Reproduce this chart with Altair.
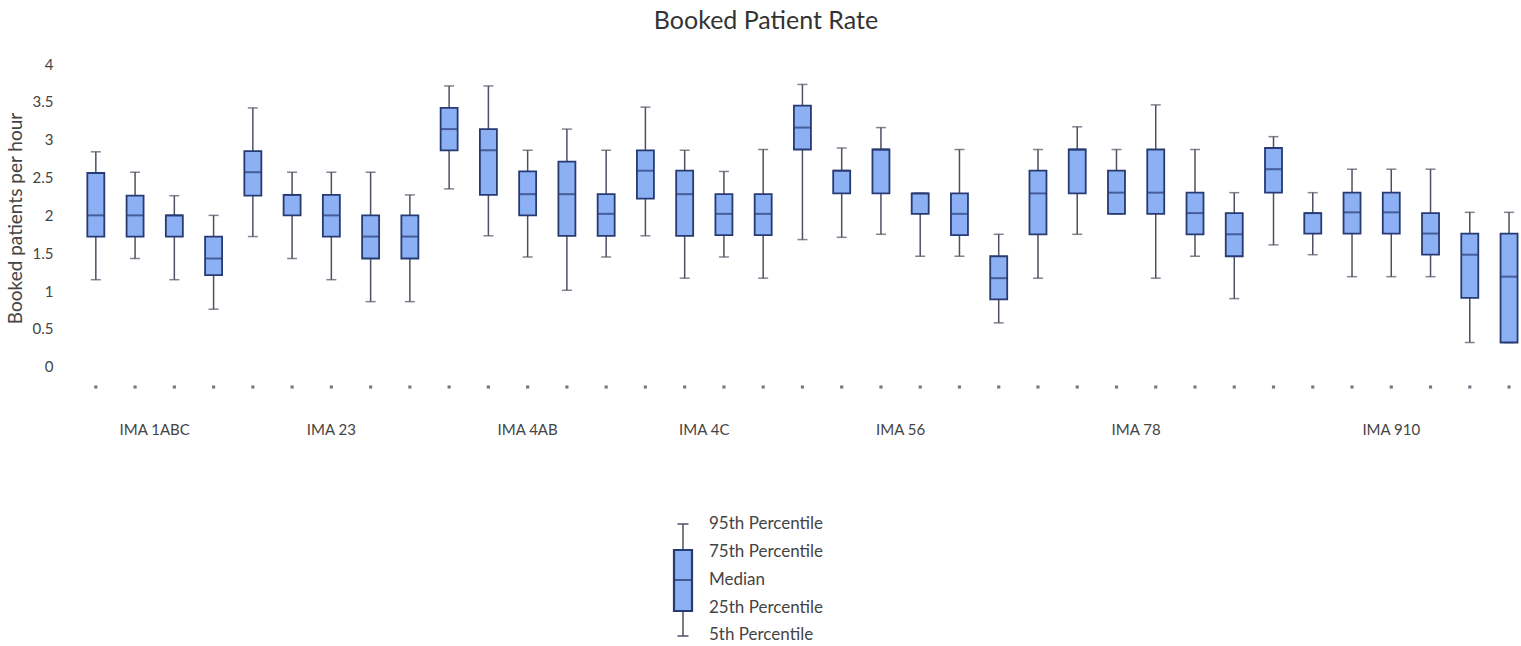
import altair as alt
import pandas as pd

# Clinic groups and how many sessions (boxes) each one holds
groups = ["IMA 1ABC", "IMA 23", "IMA 4AB", "IMA 4C", "IMA 56", "IMA 78", "IMA 910"]
group_sizes = [4, 5, 5, 4, 6, 6, 7]

# Booked patients per hour, percentiles for each session
p5 = [1.15, 1.43, 1.15, 0.76,
      1.72, 1.43, 1.15, 0.86, 0.86,
      2.35, 1.73, 1.45, 1.01, 1.45,
      1.73, 1.17, 1.45, 1.17,
      1.68, 1.71, 1.75, 1.46, 1.46, 0.58,
      1.17, 1.75, 2.02, 1.17, 1.46, 0.90,
      1.61, 1.48, 1.19, 1.19, 1.19, 0.32, 0.32]
p25 = [1.72, 1.72, 1.72, 1.21,
       2.26, 2.00, 1.72, 1.43, 1.43,
       2.86, 2.27, 2.00, 1.73, 1.73,
       2.22, 1.73, 1.74, 1.74,
       2.87, 2.29, 2.29, 2.02, 1.74, 0.89,
       1.75, 2.29, 2.02, 2.02, 1.75, 1.46,
       2.30, 1.76, 1.76, 1.76, 1.48, 0.91, 0.32]
median = [2.00, 2.00, 2.00, 1.43,
          2.57, 2.27, 2.00, 1.72, 1.72,
          3.14, 2.86, 2.28, 2.28, 2.02,
          2.59, 2.28, 2.02, 2.02,
          3.16, 2.59, 2.87, 2.29, 2.02, 1.17,
          2.29, 2.87, 2.30, 2.30, 2.03, 1.75,
          2.61, 2.03, 2.04, 2.04, 1.76, 1.48, 1.19]
p75 = [2.56, 2.26, 2.00, 1.72,
       2.85, 2.27, 2.27, 2.00, 2.00,
       3.42, 3.14, 2.58, 2.71, 2.28,
       2.86, 2.59, 2.28, 2.28,
       3.45, 2.59, 2.87, 2.29, 2.29, 1.46,
       2.59, 2.87, 2.59, 2.87, 2.30, 2.03,
       2.89, 2.03, 2.30, 2.30, 2.03, 1.76, 1.76]
p95 = [2.84, 2.57, 2.26, 2.00,
       3.42, 2.57, 2.57, 2.57, 2.27,
       3.71, 3.71, 2.86, 3.14, 2.86,
       3.43, 2.86, 2.58, 2.87,
       3.73, 2.89, 3.16, 2.29, 2.87, 1.75,
       2.87, 3.17, 2.87, 3.46, 2.87, 2.30,
       3.04, 2.30, 2.61, 2.61, 2.61, 2.04, 2.04]

y_ticks = [0, 0.5, 1, 1.5, 2, 2.5, 3, 3.5, 4]
legend_labels = ["95th Percentile", "75th Percentile", "Median",
                 "25th Percentile", "5th Percentile"]

# ---- tables ---------------------------------------------------------------
group_col = [g for g, n in zip(groups, group_sizes) for _ in range(n)]
df = pd.DataFrame({
    "idx": list(range(len(p5))),
    "group": group_col,
    "p5": p5, "p25": p25, "median": median, "p75": p75, "p95": p95,
})
starts = [sum(group_sizes[:i]) for i in range(len(group_sizes))]
gdf = pd.DataFrame({
    "group": groups,
    "center": [s + (n - 1) / 2 for s, n in zip(starts, group_sizes)],
})

# ---- styling / layout -----------------------------------------------------
FONT = "Lato"
FILL = "#8cb0f4"
EDGE = "#283a72"
WHISK = "#4e5060"
DOT = "#767886"
TEXT = "#444444"

PAD_L, PAD_T = 65, 64
W, H = 1521 - PAD_L, 333
STEP = 1423 / 36          # horizontal distance between sessions
FIRST = 91 - PAD_L        # pixel offset of the first session in the plot

x_scale = alt.Scale(domain=[-FIRST / STEP, (W - FIRST) / STEP], nice=False, zero=False)
y_scale = alt.Scale(domain=[-0.4, 4], nice=False, zero=False)
x_enc = alt.X("idx:Q", scale=x_scale, axis=None)

base = alt.Chart(df)

whiskers = base.mark_rule(color=WHISK, strokeWidth=1.5).encode(
    x=x_enc,
    y=alt.Y("p5:Q", scale=y_scale, axis=alt.Axis(
        values=y_ticks, format="~g", ticks=False, domain=False, grid=False,
        labelFont=FONT, labelFontSize=15, labelColor=TEXT, labelPadding=12,
        title="Booked patients per hour", titleFont=FONT, titleFontSize=19,
        titleFontWeight="normal", titleColor=TEXT, titleAngle=-90,
        titleX=-50, titleY=154, titleAlign="center", titleBaseline="middle")),
    y2="p95:Q",
)
cap_hi = base.mark_tick(orient="horizontal", size=10, thickness=1.5, color=WHISK).encode(
    x=x_enc, y=alt.Y("p95:Q", scale=y_scale))
cap_lo = base.mark_tick(orient="horizontal", size=10, thickness=1.5, color=WHISK).encode(
    x=x_enc, y=alt.Y("p5:Q", scale=y_scale))
boxes = base.mark_bar(size=17, fill=FILL, stroke=EDGE, strokeWidth=1.8).encode(
    x=x_enc, y=alt.Y("p25:Q", scale=y_scale), y2="p75:Q")
medians = base.mark_tick(orient="horizontal", size=17, thickness=2, color=EDGE).encode(
    x=x_enc, y=alt.Y("median:Q", scale=y_scale))
markers = base.mark_square(size=10, color=DOT, opacity=1).encode(
    x=x_enc, y=alt.value(387 - PAD_T))

group_text = alt.Chart(gdf).mark_text(font=FONT, fontSize=15, color=TEXT).encode(
    x=alt.X("center:Q", scale=x_scale, axis=None),
    y=alt.value(430 - PAD_T),
    text="group:N",
)

title = alt.Chart(alt.Data(values=[{"t": "Booked Patient Rate"}])).mark_text(
    font=FONT, fontSize=25, color="#333333", baseline="alphabetic", align="center"
).encode(x=alt.value(766 - PAD_L), y=alt.value(29 - PAD_T), text="t:N")

# ---- explanatory box glyph below the plot -------------------------------
one = alt.Data(values=[{"k": 0}])
LX = 683 - PAD_L
lg_top, lg_q3, lg_med, lg_q1, lg_bot = [v - PAD_T for v in (524, 550, 580, 611, 636)]

lg_whisker = alt.Chart(one).mark_rule(color=WHISK, strokeWidth=1.5).encode(
    x=alt.value(LX), y=alt.value(lg_top), y2=alt.value(lg_bot))
lg_caps = [
    alt.Chart(one).mark_rule(color=WHISK, strokeWidth=1.5).encode(
        x=alt.value(LX - 5.5), x2=alt.value(LX + 5.5), y=alt.value(yy))
    for yy in (lg_top, lg_bot)
]
lg_box = alt.Chart(one).mark_rect(fill=FILL, stroke=EDGE, strokeWidth=2.2).encode(
    x=alt.value(LX - 9), x2=alt.value(LX + 9), y=alt.value(lg_q3), y2=alt.value(lg_q1))
lg_median = alt.Chart(one).mark_rule(color=EDGE, strokeWidth=1.5).encode(
    x=alt.value(LX - 9), x2=alt.value(LX + 9), y=alt.value(lg_med))

label_rows = [524, 552, 580, 608, 635]
lg_text = [
    alt.Chart(alt.Data(values=[{"t": lab}])).mark_text(
        font=FONT, fontSize=17, color=TEXT, align="left", baseline="middle"
    ).encode(x=alt.value(709 - PAD_L), y=alt.value(yy - PAD_T), text="t:N")
    for lab, yy in zip(legend_labels, label_rows)
]

chart = alt.layer(
    whiskers, cap_hi, cap_lo, boxes, medians, markers, group_text, title,
    lg_whisker, *lg_caps, lg_box, lg_median, *lg_text,
).properties(
    width=W, height=H,
    autosize=alt.AutoSizeParams(type="none"),
    padding={"left": PAD_L, "top": PAD_T, "right": 0, "bottom": 646 - PAD_T - H},
    background="white",
).configure_view(strokeWidth=0)

chart.save("out.html", embed_options={"renderer": "svg", "actions": False})
